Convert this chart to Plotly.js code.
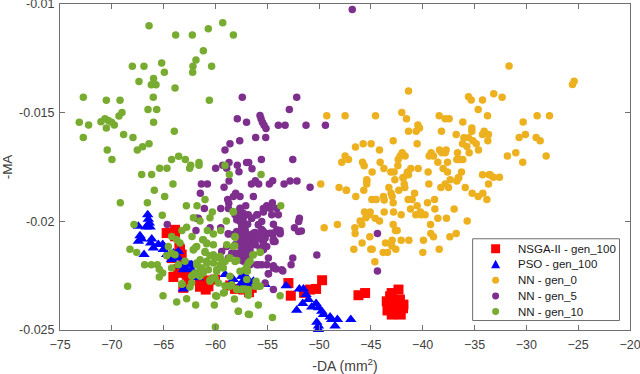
<!DOCTYPE html>
<html>
<head>
<meta charset="utf-8">
<script src="https://cdn.plot.ly/plotly-3.0.1.min.js"></script>
<style>html,body{margin:0;padding:0;background:#fff}</style>
</head>
<body>
<div id="chart" style="width:640px;height:374px"></div>
<script>
// ── Data ───────────────────────────────────────────────────────────────────────

const nsgaX = [-64.71,-63.9,-63.9,-63.48,-63.26,-64.22,-63.1,-64.06,-63.58,-63.1,-62.6,-61.49,-60.94,-61.49,-60.04,-60.68,-58.11,-57.3,-58.59,-56.5,-56.76,-52.96,-52.73,-49.71,-50.29,-50.87,-51.45,-46.2,-45.56,-42.34,-43.15,-43.47,-42.82,-41.86,-42.5,-43.3,-42.99,-42.12,-42.66,-63.42,-63.58,-62.77,-61.48,-60.68,-43,-42.2,-43.4,-41.9];
const nsgaY = [-.02054,-.02039,-.02069,-.02123,-.02153,-.02169,-.02199,-.02256,-.02237,-.02306,-.02276,-.02301,-.02314,-.0228,-.02268,-.02272,-.02311,-.02314,-.02295,-.02306,-.02326,-.02284,-.02342,-.02271,-.02311,-.02314,-.02329,-.0234,-.0233,-.02314,-.02345,-.02368,-.02368,-.02383,-.02383,-.02398,-.02429,-.02429,-.02406,-.02131,-.0222,-.02246,-.02269,-.02299,-.0233,-.0236,-.0241,-.024];

const psoX = [-66.54,-66.48,-66.38,-66.31,-66.7,-67.44,-67.28,-67.12,-67.44,-66.15,-66.25,-65.99,-66.89,-65.51,-65.09,-65.03,-64.71,-64.22,-63.58,-63.26,-62.94,-62.29,-61.65,-63.1,-59.07,-58.27,-56.98,-56.34,-57.47,-62.29,-64.06,-57,-57.37,-57.3,-56.82,-55.21,-53.18,-51.9,-51.51,-51.26,-51.03,-51.58,-52.16,-50.71,-50.29,-50.06,-49.74,-49.58,-48.94,-48.78,-48.23,-46.94,-48.46,-50.22,-50.06,-50.06,-63.58,-62.77,-63.09,-62.45,-57.46];
const psoY = [-.0197,-.0199,-.02008,-.02026,-.02026,-.02023,-.02066,-.02081,-.02092,-.02081,-.021,-.02123,-.02153,-.02107,-.02107,-.0213,-.02153,-.02176,-.02169,-.02207,-.02214,-.02222,-.0226,-.02311,-.02245,-.02268,-.0226,-.02276,-.02283,-.022,-.02146,-.02292,-.02253,-.02291,-.02291,-.02291,-.02296,-.02311,-.02311,-.02337,-.0236,-.02378,-.02409,-.02394,-.02378,-.02398,-.02414,-.02429,-.0244,-.02452,-.02452,-.02452,-.02482,-.02464,-.02482,-.02498,-.02139,-.02192,-.02223,-.022,-.02253];

const gen0X = [-41.37,-35.58,-35.32,-34.23,-34.65,-49.26,-44.56,-42.02,-41.57,-38.41,-37.83,-37.45,-33.75,-36.13,-40.47,-40.31,-40.63,-41.37,-38.19,-35.26,-35.26,-36.77,-34.23,-34.07,-36.03,-35.58,-35.16,-34.84,-36.16,-35.74,-34.62,-35.52,-42.85,-40.54,-44.98,-45.75,-46.49,-44.17,-47.49,-47.17,-47.81,-45.81,-45.65,-44.11,-41.98,-42.18,-41.7,-42.37,-42.4,-43.75,-44.88,-43.08,-42.76,-41.15,-41.47,-41.37,-40.44,-39.48,-39.19,-39.38,-38.96,-38.38,-37.74,-38.16,-37.83,-38.54,-37.61,-38.03,-37.61,-36.64,-36.71,-36.45,-36.13,-36.26,-36.58,-34.23,-33.59,-45.4,-42.69,-41.92,-37.35,-31.67,-25.39,-25.55,-33.15,-32.34,-28.96,-27.77,-30.31,-33.66,-33.72,-30.7,-30.09,-29.06,-28.67,-31.02,-31.83,-28.09,-30.35,-33.5,-33.18,-32.6,-41.86,-41.53,-49.84,-48.07,-47.36,-46.46,-45.69,-45.4,-45.4,-43.27,-43.05,-42.95,-42.31,-41.79,-41.73,-40.79,-39.41,-38.25,-37.83,-37.51,-36.71,-36.52,-35.9,-35.23,-34.65,-34.2,-33.81,-33.65,-44.91,-44.49,-43.79,-43.72,-42.85,-41.41,-41.02,-40.54,-39.54,-38.86,-41.18,-38.83,-36.97,-43.72,-42.82,-45.62,-45.07,-45.17,-45.49,-44.59,-44.17,-42.08,-40.67,-40.22,-40.15,-39.77,-38.54,-37.71,-35.71,-49.51,-48.23,-46.04,-45.88,-46.55,-46.52,-45.11,-42.85,-42.47,-42.63,-39.25,-39.22,-38.96,-37.38,-36.77,-42.95,-42.08,-41.34,-39.93,-43.59,-42.98,-42.6,-45.85,-46.65,-45.01,-44.88,-43.82,-43.4,-39.99,-38.41,-44.62,-47.49,-47.37];
const gen0Y = [-.014,-.01427,-.01442,-.01442,-.01485,-.01514,-.01514,-.01499,-.01528,-.01514,-.01528,-.01528,-.01514,-.01543,-.01557,-.01571,-.01586,-.01586,-.01586,-.01571,-.01586,-.016,-.016,-.01586,-.01615,-.01615,-.01629,-.01643,-.01643,-.01656,-.01672,-.01685,-.01629,-.01643,-.01643,-.01643,-.01658,-.01672,-.01699,-.01715,-.01728,-.01728,-.01744,-.01728,-.01685,-.01699,-.01699,-.01715,-.01744,-.01757,-.01773,-.01773,-.01773,-.01757,-.01773,-.01786,-.01757,-.01773,-.01685,-.01699,-.01699,-.01672,-.01672,-.01685,-.01685,-.01728,-.01728,-.01757,-.01773,-.01685,-.01715,-.01715,-.01715,-.01773,-.018,-.01786,-.01786,-.01809,-.01809,-.018,-.01809,-.01285,-.01355,-.0137,-.01413,-.01429,-.01514,-.01514,-.01543,-.016,-.01629,-.01614,-.016,-.01614,-.01629,-.01685,-.01699,-.01699,-.01728,-.01786,-.01797,-.01797,-.01799,-.01785,-.01828,-.01844,-.01857,-.01886,-.01857,-.01814,-.01828,-.01844,-.01871,-.01886,-.01857,-.01828,-.01844,-.01871,-.01828,-.01844,-.01828,-.01844,-.01814,-.01799,-.01844,-.01871,-.01886,-.01871,-.019,-.01828,-.019,-.019,-.01886,-.01902,-.01914,-.019,-.019,-.01928,-.01914,-.019,-.01943,-.01943,-.01943,-.01957,-.01957,-.01957,-.01957,-.0197,-.01984,-.01986,-.01999,-.0197,-.0197,-.01957,-.0197,-.0197,-.01986,-.01986,-.01999,-.02029,-.02015,-.01999,-.02015,-.02029,-.02056,-.02071,-.02015,-.02042,-.02042,-.02015,-.02056,-.02071,-.02071,-.02056,-.02087,-.02087,-.02087,-.02087,-.021,-.02114,-.02128,-.021,-.02128,-.02128,-.02128,-.02143,-.02143,-.02143,-.02128,-.02186,-.01514,-.01857];

const gen5X = [-46.8,-57.41,-57.89,-57,-57.66,-58.6,-59.08,-58.69,-57.89,-57,-59.3,-59.98,-58.92,-52.16,-52.87,-55.7,-55.6,-55.47,-55.31,-55.12,-53.93,-53.28,-51.26,-49.39,-56.12,-55.15,-55.57,-52.54,-56.79,-56.47,-57.73,-58.69,-59.17,-61.36,-60.78,-56.15,-56.53,-55.83,-54.8,-54.48,-53.38,-52.8,-52.13,-50.87,-61.46,-58.05,-57.63,-58.27,-58.82,-58.72,-56.34,-54.51,-57.08,-55.05,-55.38,-54.09,-61.07,-59.49,-58.75,-57.63,-57.79,-57.31,-57.79,-57.31,-55.96,-56.5,-55.38,-54.57,-53.93,-51.9,-51.97,-52.38,-51.71,-54.41,-57.47,-56.89,-55.54,-55.86,-55.54,-60.52,-59.49,-61.81,-61.88,-58.75,-58.11,-57.31,-55.7,-55.05,-53.77,-53.77,-57.15,-56.5,-55.86,-54.41,-64.65,-61.65,-44.37,-44.37,-50.22,-52.54,-52.7,-53.5,-54.15,-54.41,-54.89,-55.21,-54.41,-57.95,-57.14,-56.18,-55.37,-54.41,-53.76,-51.99,-57.62,-56.98,-56.34,-55.53,-54.41,-54.25,-57.62,-56.98,-56.18,-55.37,-57.3,-56.66,-55.37,-57.79,-58.43,-55.53,-56.02,-56.66,-57.3,-57.62,-54.89,-57.63,-57.47,-57.95,-57.31,-56.83,-57.7,-57.31,-57.79,-57.15,-56.83,-57.47,-58.27,-59.4,-58.76,-58.11,-58.92,-58.27,-58.76,-57.62,-57.78,-57.46,-57.62,-57.3,-57.14,-57.46,-56.82,-57.14,-57.62,-56.66,-57.46,-56.98,-57.78,-57.14,-56.66,-56.34,-55.85,-55.53,-55.85,-55.21,-56.18,-54.73,-54.41,-55.69,-55.05,-54.08,-58.27,-57.62,-55.85,-55.05,-54.41,-54.89,-53.6,-58.11,-56.5,-56.01,-55.21,-54.73,-55.37];
const gen5Y = [-.01025,-.01429,-.01528,-.01544,-.01629,-.01643,-.01672,-.01729,-.01742,-.01729,-.01742,-.01756,-.01756,-.01429,-.01486,-.01513,-.01528,-.01544,-.01558,-.01573,-.01558,-.01558,-.01558,-.01558,-.01614,-.01614,-.01715,-.01715,-.01729,-.01758,-.01772,-.01814,-.01843,-.01828,-.01828,-.01813,-.01828,-.01828,-.01828,-.01813,-.01828,-.01814,-.01814,-.01843,-.01871,-.01871,-.01886,-.01886,-.01899,-.01917,-.01886,-.01914,-.01928,-.01928,-.01941,-.01941,-.01941,-.01941,-.01941,-.01941,-.01963,-.01963,-.01986,-.01986,-.0197,-.01986,-.01957,-.0197,-.0197,-.01986,-.02001,-.02029,-.02044,-.02013,-.02024,-.02013,-.02001,-.02016,-.02039,-.02029,-.02029,-.01986,-.02042,-.02057,-.02057,-.02042,-.02054,-.02057,-.02042,-.02057,-.02073,-.0207,-.02073,-.02082,-.02015,-.01986,-.02056,-.02229,-.02155,-.02169,-.022,-.02229,-.02219,-.02204,-.02241,-.02284,-.02314,-.02047,-.02047,-.02051,-.02047,-.02054,-.02054,-.02047,-.0207,-.02077,-.02077,-.02085,-.02085,-.02093,-.021,-.02108,-.02108,-.021,-.02131,-.02131,-.02131,-.02146,-.02146,-.022,-.022,-.022,-.02184,-.02161,-.02169,-.01947,-.01978,-.01993,-.02009,-.0197,-.02055,-.02085,-.02108,-.02123,-.02146,-.02154,-.02146,-.02139,-.02169,-.02108,-.02116,-.02062,-.02058,-.0194,-.01963,-.01978,-.02001,-.02016,-.02039,-.02055,-.02062,-.02085,-.021,-.021,-.02123,-.02139,-.02154,-.02169,-.02154,-.02055,-.02016,-.02039,-.0207,-.02078,-.021,-.02055,-.02093,-.02123,-.02116,-.02039,-.02146,-.02177,-.022,-.022,-.02215,-.02241,-.02223,-.0197,-.01986,-.0197,-.0194,-.0194,-.01955];

const gen10X = [-66.41,-63.84,-62.23,-60.69,-59.3,-58.27,-61.17,-61.88,-62.17,-62.2,-60.37,-68.02,-66.9,-65.19,-64.93,-67.38,-65.97,-66.19,-65.74,-63.9,-66,-72.75,-70.53,-69.21,-60.59,-66.51,-65.67,-69.02,-69.31,-70.66,-71.05,-73.14,-72.24,-70.34,-70.02,-69.76,-70.53,-65.97,-63.97,-68.86,-67.96,-72.75,-66.41,-67.03,-67.54,-70.44,-69.99,-63.55,-64.23,-62.91,-61.59,-61.59,-62.39,-62.49,-65.38,-64.68,-67.12,-66.16,-64.1,-65.9,-64.9,-69.18,-66.57,-62.81,-61.78,-61.01,-58.66,-65.13,-67.86,-67.6,-68.25,-66.83,-66.19,-65.61,-65.42,-65.09,-65.42,-68.47,-65.06,-63.74,-62.78,-61.91,-60.11,-60.01,-57.79,-56.83,-59.14,-59.98,-58.31,-60.3,-60.53,-62.13,-61.49,-62.78,-63.23,-60.78,-59.5,-60.2,-62.26,-64.23,-64.55,-63.74,-63.42,-61.23,-60.85,-61.91,-62.13,-61.01,-60.53,-60.04,-59.56,-58.66,-57.95,-61.81,-60.85,-62.94,-63.58,-64.23,-61.49,-59.88,-59.24,-57.63,-56.99,-61.17,-62.13,-60.53,-60.04,-58.6,-62.3,-62.46,-63.26,-57.79,-57.31,-56.83,-58.44,-59.08,-61.49,-64.71,-64.23,-63.9,-59.08,-55.6,-53.7,-58.27,-58.95,-58.11,-58.14,-56.66,-55.69,-56.4,-56.98,-56.92,-56.98,-55.69,-56.18,-56.82,-53.76,-56.82,-58.17,-55.86,-57.79,-56.72,-54.5,-57.46,-57.95,-57.14,-61.81,-62.13,-61.16,-60.84,-60.2,-61,-60.2,-59.55,-61.48,-61.81,-60.84,-60.2,-59.55,-59.07,-61.32,-60.68,-59.88,-61.97,-62.29,-61.65,-60.2,-60.52,-59.71,-58.59,-58.11,-56.82,-57.14,-56.34,-55.69,-58.11,-58.91,-58.27,-57.46,-57.95,-56.82,-58.59,-56.08,-55.85,-63.22,-59.23,-59.88];
const gen10Y = [-.011,-.01143,-.01143,-.01114,-.01086,-.01143,-.01215,-.01258,-.01287,-.01314,-.01287,-.01287,-.01287,-.01271,-.01314,-.01357,-.01343,-.01372,-.01372,-.01386,-.01429,-.01429,-.01443,-.01443,-.01443,-.01486,-.01486,-.01499,-.01515,-.01528,-.01542,-.01544,-.01557,-.01536,-.01544,-.01557,-.01571,-.01544,-.01586,-.016,-.01614,-.01614,-.01643,-.01657,-.01672,-.01672,-.01715,-.017,-.01715,-.01715,-.01729,-.01742,-.01742,-.01756,-.01756,-.01756,-.01785,-.01785,-.01828,-.01857,-.01886,-.01914,-.01914,-.01928,-.01928,-.01899,-.01785,-.01972,-.02015,-.02143,-.02128,-.022,-.022,-.022,-.0222,-.02238,-.02256,-.02299,-.02342,-.02371,-.02356,-.02385,-.02385,-.02486,-.02414,-.02428,-.02327,-.02342,-.01955,-.01957,-.01984,-.01984,-.01999,-.02027,-.02042,-.02042,-.02042,-.02058,-.0207,-.0207,-.02116,-.02085,-.021,-.02085,-.02103,-.02119,-.02131,-.02143,-.02158,-.02169,-.02162,-.02169,-.0218,-.022,-.02184,-.02184,-.022,-.02215,-.02215,-.02223,-.02215,-.0223,-.02223,-.02238,-.02246,-.02269,-.02261,-.02253,-.02284,-.02302,-.02287,-.02314,-.02314,-.02318,-.02292,-.02296,-.02253,-.02158,-.02146,-.02154,-.01743,-.01785,-.01928,-.01957,-.01999,-.0207,-.02112,-.02184,-.02143,-.02155,-.02207,-.0223,-.02268,-.02299,-.02299,-.02314,-.02342,-.0234,-.02357,-.02385,-.02414,-.02429,-.02443,-.02311,-.02311,-.02311,-.02116,-.02131,-.02085,-.021,-.02108,-.02139,-.02154,-.02169,-.02177,-.02192,-.02192,-.02192,-.022,-.02185,-.02215,-.02223,-.0223,-.02238,-.02253,-.02246,-.02261,-.02276,-.02284,-.02169,-.02185,-.02192,-.02223,-.02154,-.02142,-.02073,-.02108,-.02116,-.02315,-.02315,-.02337,-.02299,-.02276,-.02299,-.02289,-.0233,-.02345];

const xTicks = [-75,-70,-65,-60,-55,-50,-45,-40,-35,-30,-25,-20];
const yTicks = [-0.01,-0.015,-0.02,-0.025];
const yTickLabels = ["-0.01","-0.015","-0.02","-0.025"];
const legendLabels = ["NSGA-II - gen_100","PSO - gen_100","NN - gen_0","NN - gen_5","NN - gen_10"];
const legendColors = ["#ff0000","#0000ff","#edb120","#7e2f8e","#77ac30"];

// ── Traces ─────────────────────────────────────────────────────────────────────

function series(name, x, y, color, symbol, size) {
  if (x.length !== y.length) throw new Error(`${name}: ${x.length} x, ${y.length} y`);
  return {
    type: "scatter", mode: "markers", name, x, y, cliponaxis: false,
    marker: { color, symbol, size, line: { width: 0 } },
  };
}

const traces = [
  series(legendLabels[0], nsgaX, nsgaY, legendColors[0], "square", 10),
  series(legendLabels[1], psoX, psoY, legendColors[1], "triangle-up", 10),
  series(legendLabels[2], gen0X, gen0Y, legendColors[2], "circle", 7.5),
  series(legendLabels[3], gen5X, gen5Y, legendColors[3], "circle", 7.5),
  series(legendLabels[4], gen10X, gen10Y, legendColors[4], "circle", 7.5),
];

// ── Legend, drawn by hand: the built-in one cannot get this tight ──────────────

const PLOT = { l: 60, r: 630.5, t: 3.5, b: 330.5 };
const paperX = px => (px - PLOT.l) / (PLOT.r - PLOT.l);
const paperY = py => (PLOT.b - py) / (PLOT.b - PLOT.t);
const legendRows = [249, 264.5, 280.5, 296.5, 312];

function legendKey(i) {
  const cx = 496, cy = legendRows[i];
  const common = { xref: "paper", yref: "paper", line: { width: 0 }, fillcolor: legendColors[i], layer: "above" };
  if (i === 0) {
    return { ...common, type: "rect", x0: paperX(cx - 4.5), x1: paperX(cx + 4.5), y0: paperY(cy + 4.5), y1: paperY(cy - 4.5) };
  }
  if (i === 1) {
    const pts = [[cx - 4.5, cy + 4], [cx + 4.5, cy + 4], [cx, cy - 4.5]];
    const path = "M" + pts.map(p => `${paperX(p[0])},${paperY(p[1])}`).join("L") + "Z";
    return { ...common, type: "path", path };
  }
  return { ...common, type: "circle", x0: paperX(cx - 3.5), x1: paperX(cx + 3.5), y0: paperY(cy + 3.5), y1: paperY(cy - 3.5) };
}

const legendBox = {
  type: "rect", xref: "paper", yref: "paper", layer: "above",
  x0: paperX(473), x1: paperX(620), y0: paperY(321), y1: paperY(239),
  fillcolor: "#fff", line: { color: "#6e6e6e", width: 1 },
};

const legendTexts = legendLabels.map((text, i) => ({
  text, xref: "paper", yref: "paper", x: paperX(516), y: paperY(legendRows[i]),
  xanchor: "left", yanchor: "middle", showarrow: false,
  font: { size: 11.5, color: "#1a1a1a" },
}));

// ── Layout ─────────────────────────────────────────────────────────────────────

const axisStyle = {
  showgrid: false, zeroline: false, showline: true, mirror: "allticks",
  linecolor: "#707070", linewidth: 1, ticks: "inside", ticklen: 5,
  tickcolor: "#707070", tickwidth: 1, ticklabeloverflow: "allow",
  tickfont: { size: 12.5 },
};

Plotly.newPlot("chart", traces, {
  width: 640, height: 374,
  paper_bgcolor: "#fff", plot_bgcolor: "#fff",
  font: { family: "Liberation Sans, Arial, sans-serif", size: 13, color: "#404040" },
  margin: { l: 60, r: 9.5, t: 3.5, b: 43.5 },
  xaxis: {
    ...axisStyle, range: [-75, -20], tickvals: xTicks, ticklabelstandoff: 3,
    title: { text: "-DA (mm<sup>2</sup>)", standoff: 10, font: { size: 14 } },
  },
  yaxis: {
    ...axisStyle, range: [-0.025, -0.01], tickvals: yTicks, ticktext: yTickLabels, ticklabelstandoff: 2,
    title: { text: "-MA", standoff: 4, font: { size: 13.5 } },
  },
  showlegend: false,
  shapes: [legendBox, ...legendLabels.map((_, i) => legendKey(i))],
  annotations: legendTexts,
}, { displayModeBar: false, staticPlot: true });
</script>
</body>
</html>
